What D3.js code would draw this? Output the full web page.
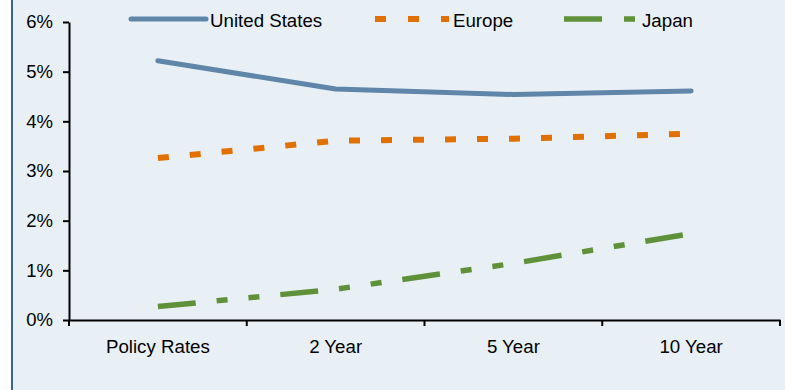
<!DOCTYPE html>
<html><head><meta charset="utf-8">
<script src="https://cdn.jsdelivr.net/npm/d3@7"></script>
<style>
html,body{margin:0;padding:0;background:#fff;}
svg{display:block;font-family:"Liberation Sans",Arial,sans-serif;}
</style></head>
<body>
<svg id="c" width="785" height="390"></svg>
<script>
const categories = ["Policy Rates", "2 Year", "5 Year", "10 Year"];
const unitedStates = [5.22, 4.65, 4.54, 4.61];
const europe = [3.26, 3.61, 3.65, 3.75];
const japan = [0.27, 0.62, 1.14, 1.74];
const yTicks = [0, 1, 2, 3, 4, 5, 6];
const seriesNames = ["United States", "Europe", "Japan"];

const series = [
  {name: seriesNames[0], values: unitedStates, color: "#5F85A8", dash: null, width: 5, cap: "round"},
  {name: seriesNames[1], values: europe, color: "#E07000", dash: "11,21", width: 6, cap: "butt"},
  {name: seriesNames[2], values: japan, color: "#5E913A", dash: "38,21,11,21,11,21", width: 5.5, cap: "butt"}
];

const svg = d3.select("#c");
svg.append("rect").attr("x", 12).attr("y", 0).attr("width", 773).attr("height", 390).attr("fill", "#E9F0F5");
svg.append("line").attr("x1", 12).attr("x2", 12).attr("y1", 0).attr("y2", 390)
  .attr("stroke", "#3C6690").attr("stroke-width", 2);

const x = d3.scaleBand().domain(categories).range([69, 780]);
const y = d3.scaleLinear().domain([0, 6]).range([320, 22]);

const g = svg.append("g");

// y axis
const yAxis = g.append("g").attr("transform", "translate(69,0)")
  .call(d3.axisLeft(y).tickValues(yTicks).tickFormat(d => d + "%").tickSize(6).tickSizeOuter(0));
yAxis.select(".domain").attr("stroke", "#000").attr("stroke-width", 2);
yAxis.selectAll(".tick line").attr("stroke", "#000").attr("stroke-width", 2);
yAxis.selectAll(".tick text").attr("font-size", 18.5).attr("fill", "#000").attr("x", -16)
  .attr("font-family", "Liberation Sans, Arial, sans-serif");

// x axis
const xAxis = g.append("g").attr("transform", "translate(0,320)")
  .call(d3.axisBottom(x).tickSize(0).tickSizeOuter(0));
xAxis.select(".domain").attr("stroke", "#000").attr("stroke-width", 2);
xAxis.selectAll(".tick text").attr("font-size", 18.7).attr("fill", "#000").attr("y", 20)
  .attr("font-family", "Liberation Sans, Arial, sans-serif");
// boundary ticks
const bounds = categories.map(c => x(c)).concat([x(categories[categories.length - 1]) + x.bandwidth()]);
xAxis.selectAll(".btick").data(bounds).enter().append("line")
  .attr("x1", d => d).attr("x2", d => d).attr("y1", 0).attr("y2", 6)
  .attr("stroke", "#000").attr("stroke-width", 2);

// lines
const line = d3.line().x((d, i) => x(categories[i]) + x.bandwidth() / 2).y(d => y(d));
series.forEach(s => {
  g.append("path").datum(s.values).attr("d", line)
    .attr("fill", "none").attr("stroke", s.color).attr("stroke-width", s.width)
    .attr("stroke-dasharray", s.dash).attr("stroke-linecap", s.cap).attr("stroke-linejoin", "round");
});

// legend
const legendItems = [
  {x1: 131, x2: 206, tx: 210},
  {x1: 375, x2: 449, tx: 453},
  {x1: 564, x2: 638, tx: 642}
];
series.forEach((s, i) => {
  const L = legendItems[i];
  const lg = svg.append("g");
  lg.append("line").attr("x1", L.x1).attr("x2", L.x2).attr("y1", 19).attr("y2", 19)
    .attr("stroke", s.color).attr("stroke-width", s.width)
    .attr("stroke-dasharray", i === 1 ? "11,22" : (i === 2 ? "38,22,11,22" : null))
    .attr("stroke-linecap", s.cap);
  lg.append("text").attr("x", L.tx).attr("y", 27).attr("font-size", 18.7).attr("fill", "#000").text(s.name);
});
</script>
</body></html>
